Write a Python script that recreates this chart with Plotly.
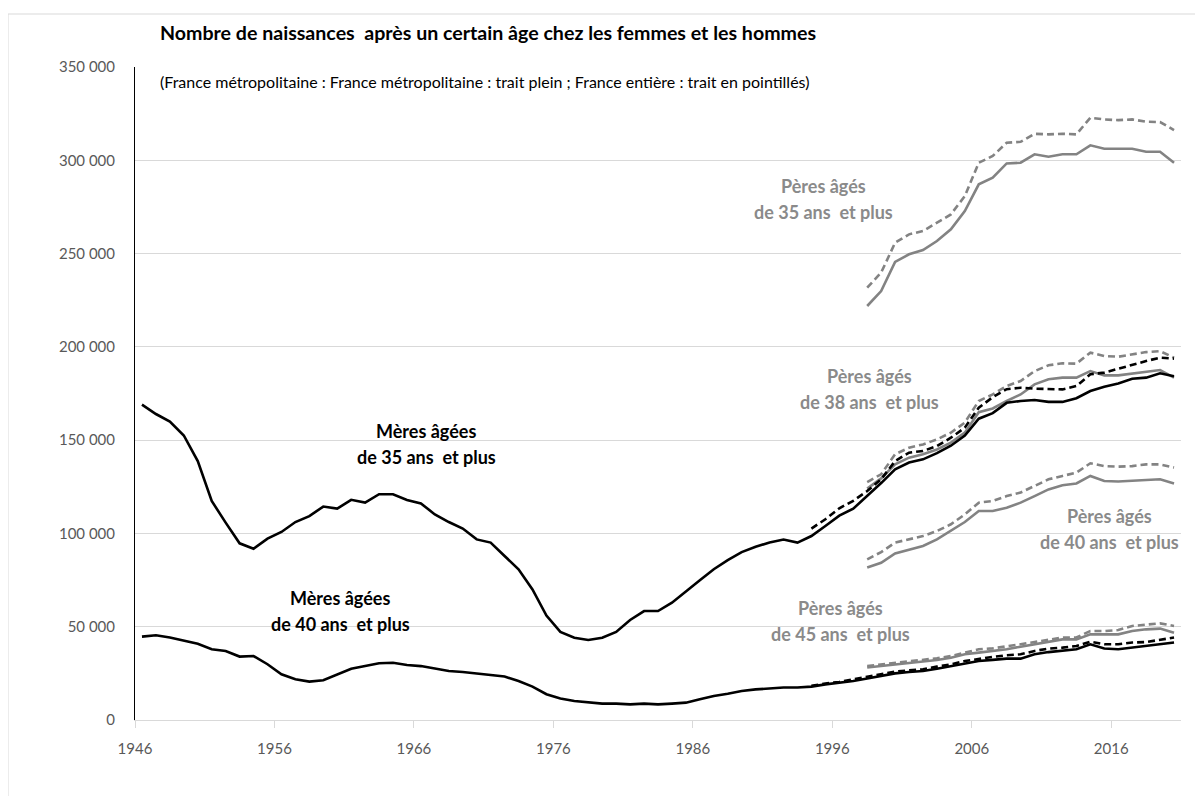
import plotly.graph_objects as go

# ---------------- data ----------------
years_all = list(range(1946, 2021))
years_fr_mothers = list(range(1994, 2021))
years_fathers = list(range(1998, 2021))

mothers35_metro = [169.0, 164.0, 160.0, 152.5, 138.8, 117.4, 105.8, 94.7, 91.8, 97.2,
                   100.8, 106.1, 109.3, 114.4, 113.3, 118.0, 116.5, 121.0, 121.0, 117.9,
                   116.1, 110.2, 106.1, 102.6, 96.8, 95.1, 87.9, 80.8, 70.0, 56.0,
                   47.2, 44.1, 42.9, 44.1, 47.2, 53.6, 58.4, 58.4, 62.9, 69.1,
                   74.9, 80.8, 85.7, 90.0, 92.9, 95.1, 96.7, 95.1, 98.6, 104.0,
                   109.5, 113.3, 120.0, 127.0, 134.4, 138.0, 139.7, 143.0, 147.0, 152.5,
                   161.5, 164.5, 170.0, 171.0, 171.5, 170.5, 170.5, 172.5, 176.3, 178.6,
                   180.4, 182.9, 183.5, 185.8, 184.3]
mothers40_metro = [44.7, 45.4, 44.2, 42.7, 40.9, 37.9, 37.0, 34.0, 34.3, 29.9,
                   24.5, 21.8, 20.6, 21.3, 24.5, 27.5, 28.9, 30.4, 30.7, 29.5,
                   28.9, 27.5, 26.3, 25.7, 24.9, 24.3, 23.3, 20.9, 17.9, 13.8,
                   11.5, 10.2, 9.3, 8.8, 8.8, 8.4, 8.8, 8.4, 8.8, 9.3,
                   11.1, 12.9, 14.1, 15.5, 16.4, 17.0, 17.4, 17.4, 17.9, 19.1,
                   19.8, 20.9, 22.2, 23.6, 25.0, 25.7, 26.3, 27.5, 28.9, 30.4,
                   31.6, 32.2, 32.9, 32.9, 35.2, 36.4, 37.0, 37.9, 40.6, 38.3,
                   37.9, 38.8, 39.3, 40.6, 41.5]
mothers35_fr = [102.6, 107.6, 113.5, 117.5, 122.7, 129.0, 138.8, 143.3, 144.2, 146.8,
                151.3, 156.7, 167.4, 173.0, 177.3, 178.1, 177.6, 177.2, 177.2, 179.0,
                185.3, 186.2, 188.3, 190.6, 192.4, 194.2, 193.7]
mothers40_fr = [18.3, 19.6, 20.4, 21.8, 23.3, 24.5, 25.9, 26.6, 27.2, 28.6,
                29.8, 31.6, 32.9, 33.8, 34.7, 35.2, 37.0, 38.3, 38.8, 39.7,
                42.0, 40.6, 40.6, 41.5, 41.8, 43.2, 44.2]

fathers35_metro = [221.9, 229.9, 245.5, 249.6, 251.9, 256.7, 263.0, 272.8, 287.1, 290.7,
                   298.3, 298.7, 303.2, 301.9, 303.2, 303.2, 308.0, 306.2, 306.2, 306.2,
                   304.6, 304.6, 298.7]
fathers35_fr = [231.7, 239.8, 255.8, 260.3, 262.1, 266.6, 271.0, 280.8, 298.7, 302.3,
                309.4, 309.9, 314.2, 313.9, 314.2, 313.9, 322.8, 321.9, 321.5, 321.9,
                320.7, 320.5, 316.2]
fathers38_metro = [124.0, 129.5, 137.0, 140.6, 142.4, 145.0, 148.7, 154.0, 165.0, 167.0,
                   171.0, 174.5, 179.9, 182.6, 183.5, 183.5, 187.0, 184.7, 184.7, 185.8,
                   186.5, 187.6, 183.5]
fathers38_fr = [127.5, 131.7, 142.4, 146.0, 147.7, 150.4, 154.0, 159.4, 171.0, 174.5,
                179.0, 181.7, 187.0, 190.1, 191.2, 191.0, 196.9, 195.1, 194.7, 196.0,
                197.2, 197.7, 194.2]
fathers40_metro = [81.7, 84.3, 89.3, 91.5, 93.3, 96.8, 101.3, 106.1, 112.0, 112.0,
                   113.8, 116.5, 120.0, 123.6, 125.8, 126.8, 130.8, 128.1, 127.8, 128.1,
                   128.6, 129.0, 126.8]
fathers40_fr = [86.1, 90.0, 95.1, 96.8, 98.6, 101.3, 104.9, 110.2, 116.5, 117.4,
                120.0, 121.9, 125.4, 129.0, 130.8, 132.6, 137.6, 136.1, 135.8, 136.1,
                137.0, 137.0, 135.3]
fathers45_metro = [28.1, 28.9, 29.8, 30.8, 31.3, 32.2, 33.4, 35.2, 36.1, 37.0,
                   37.9, 39.3, 40.6, 42.3, 43.2, 43.2, 45.9, 45.9, 45.9, 47.7,
                   48.6, 49.0, 46.8]
fathers45_fr = [28.9, 29.7, 30.8, 31.6, 32.2, 33.1, 34.3, 36.1, 37.9, 38.4,
                39.3, 40.6, 41.8, 43.2, 44.2, 44.2, 47.7, 47.7, 48.2, 50.4,
                51.3, 51.8, 50.4]

x_tick_vals = [1945.5, 1955.5, 1965.5, 1975.5, 1985.5, 1995.5, 2005.5, 2015.5]
x_tick_text = ["1946", "1956", "1966", "1976", "1986", "1996", "2006", "2016"]
y_tick_vals = [0, 50000, 100000, 150000, 200000, 250000, 300000, 350000]
y_tick_text = ["0", "50 000", "100 000", "150 000", "200 000", "250 000", "300 000", "350 000"]

NB = "\u00a0"
title_text = f"Nombre de naissances {NB}après un certain âge chez les femmes et les hommes"
subtitle_text = ("(France métropolitaine : France métropolitaine : trait plein ; "
                 "France entière : trait en pointillés)")

# labels: (line1, line2, x year, y value, color)
labels = [
    ("Mères âgées", f"de 35 ans {NB}et plus", 1966.4, 148000, "#000000"),
    ("Mères âgées", f"de 40 ans {NB}et plus", 1960.2, 58300, "#000000"),
    ("Pères âgés", f"de 35 ans {NB}et plus", 1994.9, 279300, "#8a8a8a"),
    ("Pères âgés", f"de 38 ans {NB}et plus", 1998.2, 177500, "#8a8a8a"),
    ("Pères âgés", f"de 40 ans {NB}et plus", 2015.4, 102200, "#8a8a8a"),
    ("Pères âgés", f"de 45 ans {NB}et plus", 1996.1, 52900, "#8a8a8a"),
]

# ---------------- figure ----------------
GRAY = "#838383"
BLACK = "#000000"
DASH = "7px,4px"
LW = 2.6

def k(vals):
    return [v * 1000 for v in vals]

fig = go.Figure()
gray_series = [
    (fathers35_metro, "solid"), (fathers35_fr, DASH),
    (fathers38_metro, "solid"), (fathers38_fr, DASH),
    (fathers40_metro, "solid"), (fathers40_fr, DASH),
    (fathers45_metro, "solid"), (fathers45_fr, DASH),
]
for vals, dash in gray_series:
    fig.add_trace(go.Scatter(x=years_fathers, y=k(vals), mode="lines",
                             line=dict(color=GRAY, width=LW, dash=dash)))

fig.add_trace(go.Scatter(x=years_fr_mothers, y=k(mothers35_fr), mode="lines",
                         line=dict(color=BLACK, width=LW, dash=DASH)))
fig.add_trace(go.Scatter(x=years_fr_mothers, y=k(mothers40_fr), mode="lines",
                         line=dict(color=BLACK, width=LW, dash=DASH)))
fig.add_trace(go.Scatter(x=years_all, y=k(mothers35_metro), mode="lines",
                         line=dict(color=BLACK, width=LW)))
fig.add_trace(go.Scatter(x=years_all, y=k(mothers40_metro), mode="lines",
                         line=dict(color=BLACK, width=LW)))

annotations = []
for l1, l2, xv, yv, col in labels:
    annotations.append(dict(x=xv, y=yv, xref="x", yref="y", text=f"<b>{l1}</b>",
                            showarrow=False, yshift=13, xanchor="center", yanchor="middle",
                            font=dict(family="Lato", size=18, color=col)))
    annotations.append(dict(x=xv, y=yv, xref="x", yref="y", text=f"<b>{l2}</b>",
                            showarrow=False, yshift=-13, xanchor="center", yanchor="middle",
                            font=dict(family="Lato", size=18, color=col)))

# page has an 8px body margin; work in page pixels
OFF = 8
PL_PAGE, PR_PAGE, PT_PAGE, PB_PAGE = 135, 1181, 67, 720
W, H = 1195, 788
ML = PL_PAGE - OFF
MT = PT_PAGE - OFF
pw = PR_PAGE - PL_PAGE
ph = PB_PAGE - PT_PAGE
MR = W - ML - pw
MB = H - MT - ph

def px_x(p):
    return (p - PL_PAGE) / pw

def px_y(p):
    return (PB_PAGE - p) / ph

annotations.append(dict(x=px_x(158), y=px_y(33), xref="paper", yref="paper",
                        text=f"<b>{title_text}</b>", showarrow=False,
                        xanchor="left", yanchor="middle",
                        font=dict(family="Lato", size=19.6, color="#000000")))
annotations.append(dict(x=px_x(158), y=px_y(81), xref="paper", yref="paper",
                        text=subtitle_text, showarrow=False,
                        xanchor="left", yanchor="middle",
                        font=dict(family="Lato", size=16, color="#000000")))

fig.update_layout(
    width=W, height=H,
    margin=dict(l=ML, r=MR, t=MT, b=MB, pad=0),
    paper_bgcolor="white", plot_bgcolor="white",
    showlegend=False,
    annotations=annotations,
    shapes=[dict(type="rect", xref="paper", yref="paper",
                 x0=px_x(8), x1=px_x(1260), y0=px_y(850), y1=px_y(14),
                 line=dict(color="#d9d9d9", width=1), layer="below")],
    font=dict(family="Lato"),
)
fig.update_xaxes(range=[1945.5, 2020.5], tickmode="array",
                 tickvals=x_tick_vals, ticktext=x_tick_text,
                 showgrid=False, zeroline=False,
                 showline=True, linecolor="#d9d9d9", linewidth=1,
                 ticks="outside", ticklen=7, tickcolor="#d9d9d9",
                 ticklabelstandoff=8,
                 tickfont=dict(family="Lato", size=15, color="#595959"))
fig.update_yaxes(range=[0, 350000], tickmode="array",
                 tickvals=y_tick_vals, ticktext=y_tick_text,
                 showgrid=True, gridcolor="#d9d9d9", gridwidth=1,
                 zeroline=False, showline=True, linecolor="#000000", linewidth=1,
                 ticks="", ticklabelstandoff=16,
                 tickfont=dict(family="Lato", size=15, color="#595959"))

fig.write_html("out.html")
